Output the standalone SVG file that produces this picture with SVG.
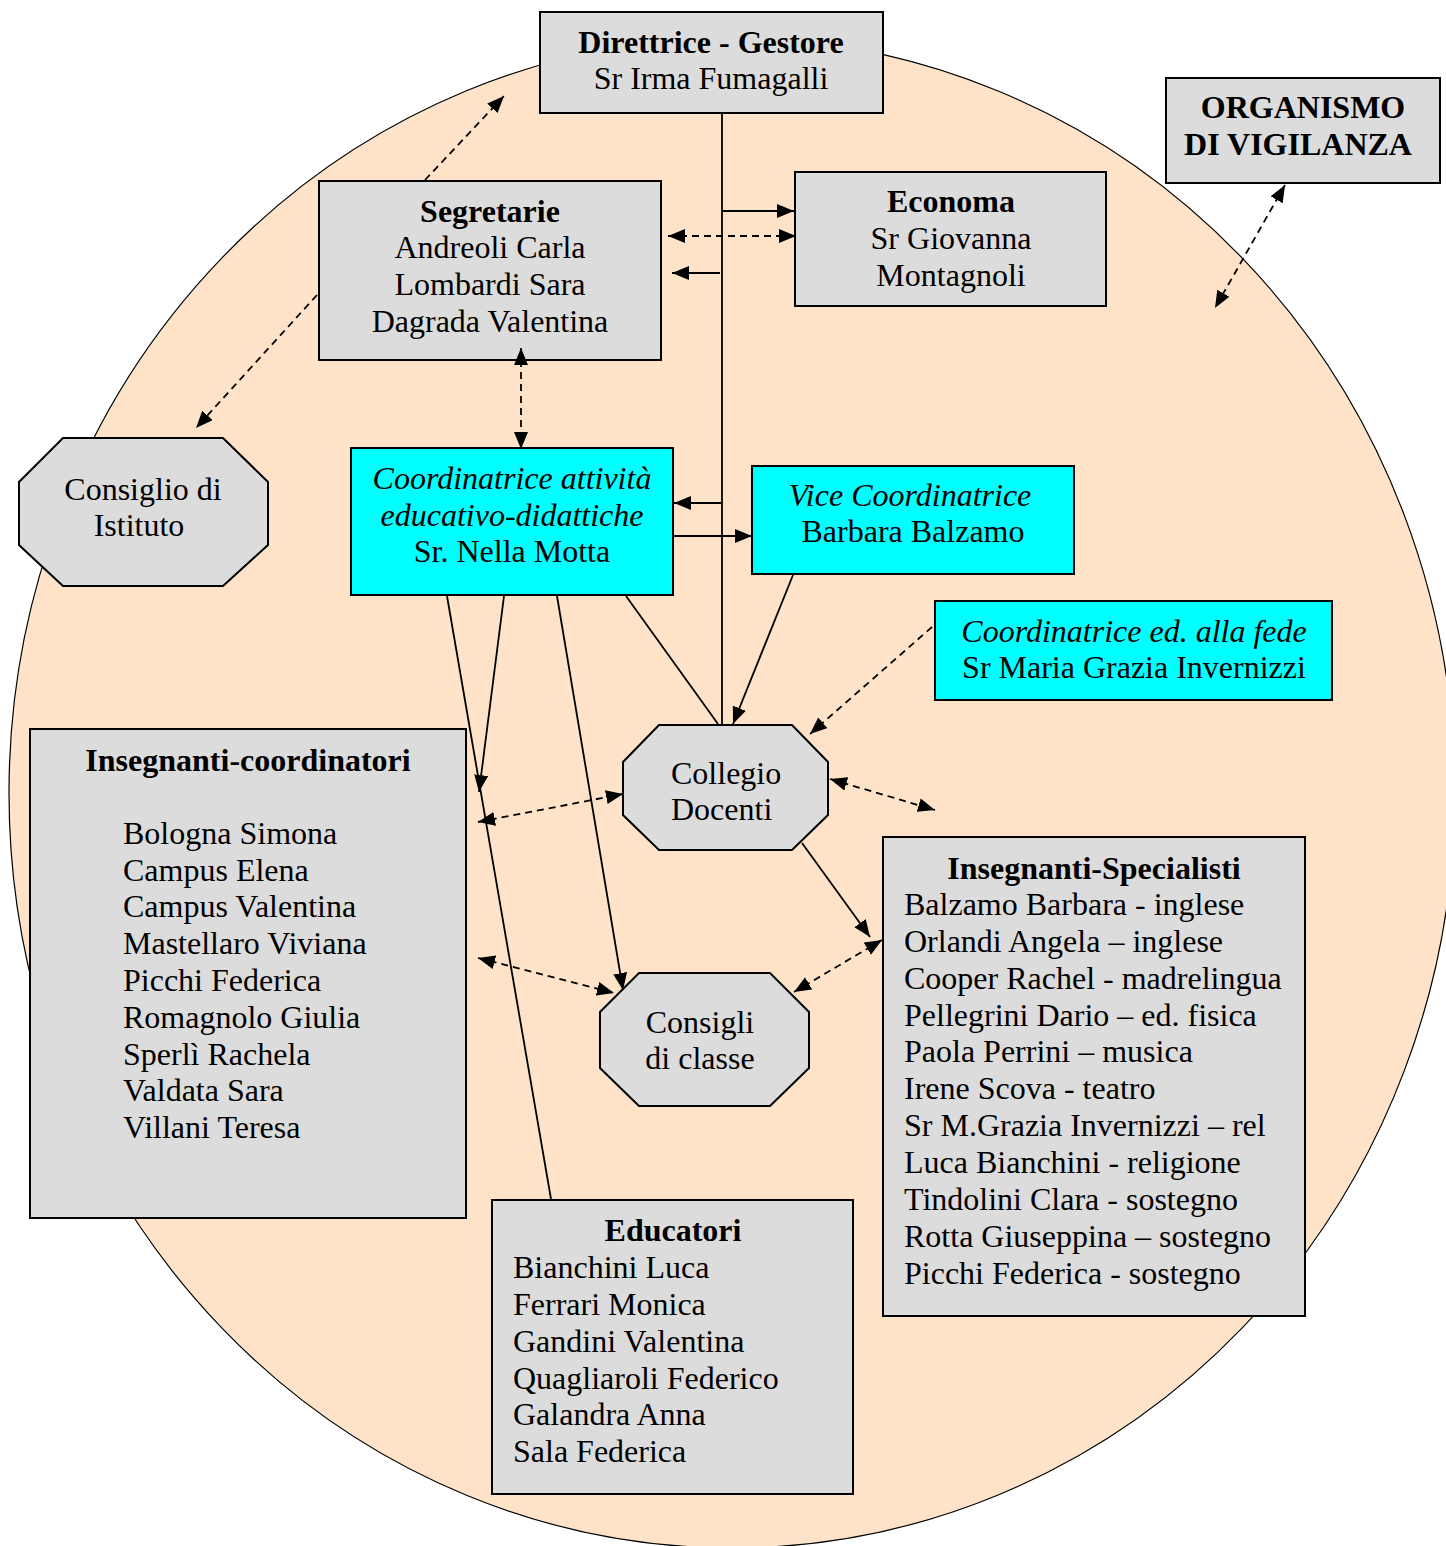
<svg xmlns="http://www.w3.org/2000/svg" width="1446" height="1546" viewBox="0 0 1446 1546">
<style>
text{font-family:"Liberation Serif","Times New Roman",serif;font-size:32px;fill:#000}
.c{text-anchor:middle}
.b{font-weight:bold}
.i{font-style:italic}
.box{fill:#DCDCDC;stroke:#000;stroke-width:2}
.cy{fill:#00FFFF;stroke:#000;stroke-width:2}
.ln{stroke:#000;stroke-width:1.8;fill:none}
.ds{stroke:#000;stroke-width:1.8;fill:none;stroke-dasharray:7,5}
.e{marker-end:url(#ah)}
.s{marker-start:url(#ah)}
</style>
<defs>
<marker id="ah" markerUnits="userSpaceOnUse" markerWidth="18" markerHeight="15" refX="17" refY="7" orient="auto-start-reverse" viewBox="0 0 18 15">
<path d="M0,0 L17,7 L0,14 z" fill="#000"/>
</marker>
</defs>
<ellipse id="sfondo" cx="732" cy="793" rx="723" ry="755" fill="#FFE3C9" stroke="#000" stroke-width="1.2"/>

<g id="direttrice">
<rect class="box" x="540" y="12" width="343" height="101"/>
<text class="c b" x="711" y="53">Direttrice - Gestore</text>
<text class="c" x="711" y="89">Sr Irma Fumagalli</text>
</g>

<g id="segretarie">
<rect class="box" x="319" y="181" width="342" height="179"/>
<text class="c b" x="490" y="222">Segretarie</text>
<text class="c" x="490" y="258">Andreoli Carla</text>
<text class="c" x="490" y="295">Lombardi Sara</text>
<text class="c" x="490" y="332">Dagrada Valentina</text>
</g>

<g id="economa">
<rect class="box" x="795" y="172" width="311" height="134"/>
<text class="c b" x="951" y="212">Economa</text>
<text class="c" x="951" y="249">Sr Giovanna</text>
<text class="c" x="951" y="286">Montagnoli</text>
</g>

<g id="organismo">
<rect class="box" x="1166" y="78" width="274" height="105"/>
<text class="c b" x="1303" y="118">ORGANISMO</text>
<text class="c b" x="1298" y="155">DI VIGILANZA</text>
</g>

<g id="consiglio-istituto">
<polygon class="box" points="63,438 223,438 268,482 268,545 223,586 63,586 19,545 19,482"/>
<text class="c" x="143" y="500">Consiglio di</text>
<text class="c" x="139" y="536">Istituto</text>
</g>

<g id="coordinatrice">
<rect class="cy" x="351" y="448" width="322" height="147"/>
<text class="c i" x="512" y="489">Coordinatrice attività</text>
<text class="c i" x="512" y="526">educativo-didattiche</text>
<text class="c" x="512" y="562">Sr. Nella Motta</text>
</g>

<g id="vice">
<rect class="cy" x="752" y="466" width="322" height="108"/>
<text class="c i" x="910" y="506">Vice Coordinatrice</text>
<text class="c" x="913" y="542">Barbara Balzamo</text>
</g>

<g id="fede">
<rect class="cy" x="935" y="601" width="397" height="99"/>
<text class="c i" x="1134" y="642">Coordinatrice ed. alla fede</text>
<text class="c" x="1134" y="678">Sr Maria Grazia Invernizzi</text>
</g>

<g id="collegio">
<polygon class="box" points="659,725 792,725 828,762 828,815 792,850 659,850 623,815 623,762"/>
<text x="671" y="784">Collegio</text>
<text x="671" y="820">Docenti</text>
</g>

<g id="insegnanti-coordinatori">
<rect class="box" x="30" y="729" width="436" height="489"/>
<text class="c b" x="248" y="771">Insegnanti-coordinatori</text>
<text x="123" y="844">Bologna Simona</text>
<text x="123" y="881">Campus Elena</text>
<text x="123" y="917">Campus Valentina</text>
<text x="123" y="954">Mastellaro Viviana</text>
<text x="123" y="991">Picchi Federica</text>
<text x="123" y="1028">Romagnolo Giulia</text>
<text x="123" y="1065">Sperlì Rachela</text>
<text x="123" y="1101">Valdata Sara</text>
<text x="123" y="1138">Villani Teresa</text>
</g>

<g id="consigli-classe">
<polygon class="box" points="639,973 770,973 809,1012 809,1068 770,1106 639,1106 600,1068 600,1012"/>
<text class="c" x="700" y="1033">Consigli</text>
<text class="c" x="700" y="1069">di classe</text>
</g>

<g id="specialisti">
<rect class="box" x="883" y="837" width="422" height="479"/>
<text class="c b" x="1094" y="879">Insegnanti-Specialisti</text>
<text x="904" y="915">Balzamo Barbara - inglese</text>
<text x="904" y="952">Orlandi Angela – inglese</text>
<text x="904" y="989">Cooper Rachel - madrelingua</text>
<text x="904" y="1026">Pellegrini Dario – ed. fisica</text>
<text x="904" y="1062">Paola Perrini – musica</text>
<text x="904" y="1099">Irene Scova - teatro</text>
<text x="904" y="1136">Sr M.Grazia Invernizzi – rel</text>
<text x="904" y="1173">Luca Bianchini - religione</text>
<text x="904" y="1210">Tindolini Clara - sostegno</text>
<text x="904" y="1247">Rotta Giuseppina – sostegno</text>
<text x="904" y="1284">Picchi Federica - sostegno</text>
</g>

<g id="educatori">
<rect class="box" x="492" y="1200" width="361" height="294"/>
<text class="c b" x="673" y="1241">Educatori</text>
<text x="513" y="1278">Bianchini Luca</text>
<text x="513" y="1315">Ferrari Monica</text>
<text x="513" y="1352">Gandini Valentina</text>
<text x="513" y="1389">Quagliaroli Federico</text>
<text x="513" y="1425">Galandra Anna</text>
<text x="513" y="1462">Sala Federica</text>
</g>

<g id="connectors">
<line class="ln" x1="722" y1="114" x2="722" y2="724"/>
<line class="ln e" x1="722" y1="211" x2="794" y2="211"/>
<line class="ds e s" x1="668" y1="236" x2="796" y2="236"/>
<line class="ln e" x1="720" y1="273" x2="672" y2="273"/>
<line class="ds e" x1="425" y1="180" x2="504" y2="96"/>
<line class="ds e" x1="317" y1="295" x2="196" y2="428"/>
<line class="ds e s" x1="521" y1="348" x2="521" y2="449"/>
<line class="ln e" x1="721" y1="503" x2="674" y2="503"/>
<line class="ln e" x1="674" y1="536" x2="752" y2="536"/>
<line class="ln e" x1="793" y1="575" x2="733" y2="724"/>
<line class="ln" x1="626" y1="596" x2="718" y2="724"/>
<line class="ln" x1="447" y1="596" x2="551" y2="1199"/>
<line class="ln e" x1="504" y1="596" x2="479" y2="792"/>
<line class="ln e" x1="557" y1="596" x2="623" y2="990"/>
<line class="ds e s" x1="478" y1="822" x2="623" y2="794"/>
<line class="ds e s" x1="478" y1="958" x2="614" y2="993"/>
<line class="ds e" x1="932" y1="627" x2="810" y2="734"/>
<line class="ds e s" x1="830" y1="779" x2="935" y2="810"/>
<line class="ln e" x1="802" y1="843" x2="870" y2="937"/>
<line class="ds e s" x1="882" y1="940" x2="794" y2="992"/>
<line class="ds e s" x1="1285" y1="185" x2="1215" y2="308"/>
</g>
</svg>
